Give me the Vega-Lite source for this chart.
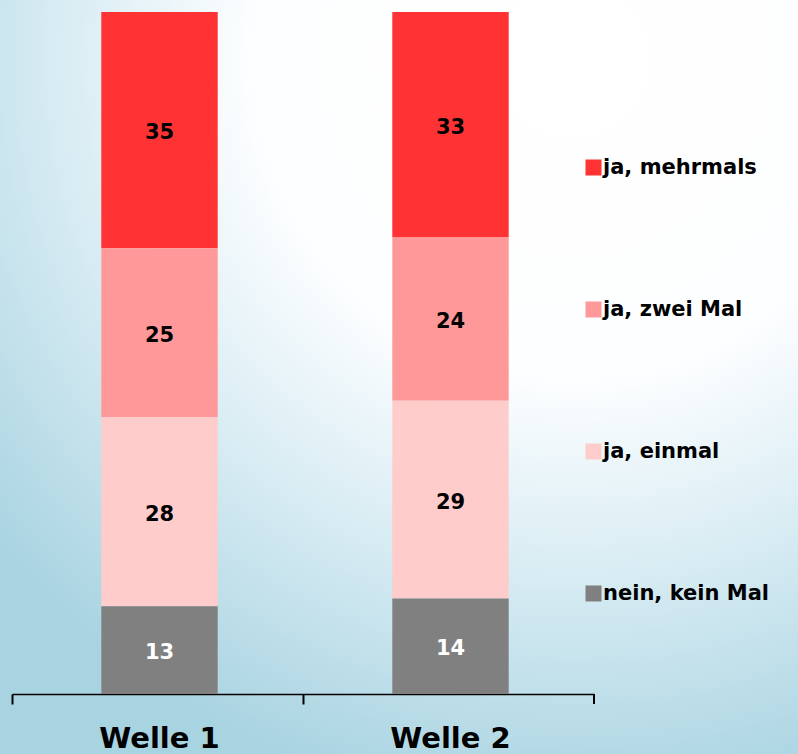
{
  "$schema": "https://vega.github.io/schema/vega-lite/v6.json",
  "width": 798,
  "height": 754,
  "autosize": {"type": "none"},
  "padding": 0,
  "background": "#e6f2f6",
  "config": {
    "view": {
      "stroke": null,
      "fill": {
        "gradient": "radial",
        "x1": 0.72, "y1": 0.1, "r1": 0,
        "x2": 0.72, "y2": 0.1, "r2": 0.95,
        "stops": [
          {"offset": 0, "color": "#ffffff"},
          {"offset": 0.42, "color": "#fdfeff"},
          {"offset": 0.68, "color": "#d8ecf3"},
          {"offset": 1, "color": "#a8d3e1"}
        ]
      }
    }
  },
  "data": {
    "values": [
      {"welle": "Welle 1", "kat": "ja, mehrmals", "wert": 35, "rang": 4},
      {"welle": "Welle 1", "kat": "ja, zwei Mal", "wert": 25, "rang": 3},
      {"welle": "Welle 1", "kat": "ja, einmal", "wert": 28, "rang": 2},
      {"welle": "Welle 1", "kat": "nein, kein Mal", "wert": 13, "rang": 1},
      {"welle": "Welle 2", "kat": "ja, mehrmals", "wert": 33, "rang": 4},
      {"welle": "Welle 2", "kat": "ja, zwei Mal", "wert": 24, "rang": 3},
      {"welle": "Welle 2", "kat": "ja, einmal", "wert": 29, "rang": 2},
      {"welle": "Welle 2", "kat": "nein, kein Mal", "wert": 14, "rang": 1}
    ]
  },
  "layer": [
    {
      "mark": {"type": "bar", "width": {"band": 0.4}, "xOffset": 2},
      "encoding": {
        "x": {
          "field": "welle",
          "type": "nominal",
          "scale": {"range": [12, 594], "paddingInner": 0, "paddingOuter": 0},
          "axis": {
            "title": null,
            "bandPosition": 0,
            "labelOffset": 2,
            "labelAngle": 0,
            "domainColor": "#000000",
            "domainWidth": 1.5,
            "tickColor": "#000000",
            "tickWidth": 2,
            "tickSize": 10,
            "labelFont": "DejaVu Sans",
            "labelFontWeight": "bold",
            "labelFontSize": 29,
            "labelColor": "#000000",
            "labelPadding": 20,
            "offset": -60,
            "grid": false
          }
        },
        "y": {
          "field": "wert",
          "type": "quantitative",
          "stack": "normalize",
          "scale": {"domain": [0, 1], "range": [694, 12]},
          "axis": null
        },
        "color": {
          "field": "kat",
          "type": "nominal",
          "scale": {
            "domain": ["ja, mehrmals", "ja, zwei Mal", "ja, einmal", "nein, kein Mal"],
            "range": ["#ff3333", "#ff9999", "#ffcccc", "#808080"]
          },
          "legend": {
            "title": null,
            "orient": "none",
            "legendX": 583,
            "legendY": 157,
            "direction": "vertical",
            "symbolType": "square",
            "symbolSize": 256,
            "symbolStrokeWidth": 0,
            "symbolOpacity": 1,
            "rowPadding": 120,
            "labelFont": "DejaVu Sans",
            "labelFontWeight": "bold",
            "labelFontSize": 21,
            "labelColor": "#000000",
            "labelOffset": -1,
            "labelLimit": 300,
            "padding": 0
          }
        },
        "order": {"field": "rang", "type": "quantitative"}
      }
    },
    {
      "mark": {"type": "text", "font": "DejaVu Sans", "fontWeight": "bold", "fontSize": 21, "baseline": "middle", "align": "center", "xOffset": 2, "dy": 3},
      "encoding": {
        "x": {"field": "welle", "type": "nominal"},
        "y": {"field": "wert", "type": "quantitative", "stack": "normalize", "bandPosition": 0.5},
        "detail": {"field": "kat"},
        "order": {"field": "rang", "type": "quantitative"},
        "text": {"field": "wert", "type": "quantitative"},
        "color": {
          "condition": {"test": "datum.kat === 'nein, kein Mal'", "value": "#ffffff"},
          "value": "#000000"
        }
      }
    },
    {
      "data": {"values": [{"welle": "Welle 2"}]},
      "mark": {"type": "rule", "color": "#000000", "strokeWidth": 2},
      "encoding": {
        "x": {"field": "welle", "type": "nominal", "bandPosition": 1},
        "y": {"datum": 0},
        "y2": {"datum": -0.0147}
      }
    }
  ]
}
